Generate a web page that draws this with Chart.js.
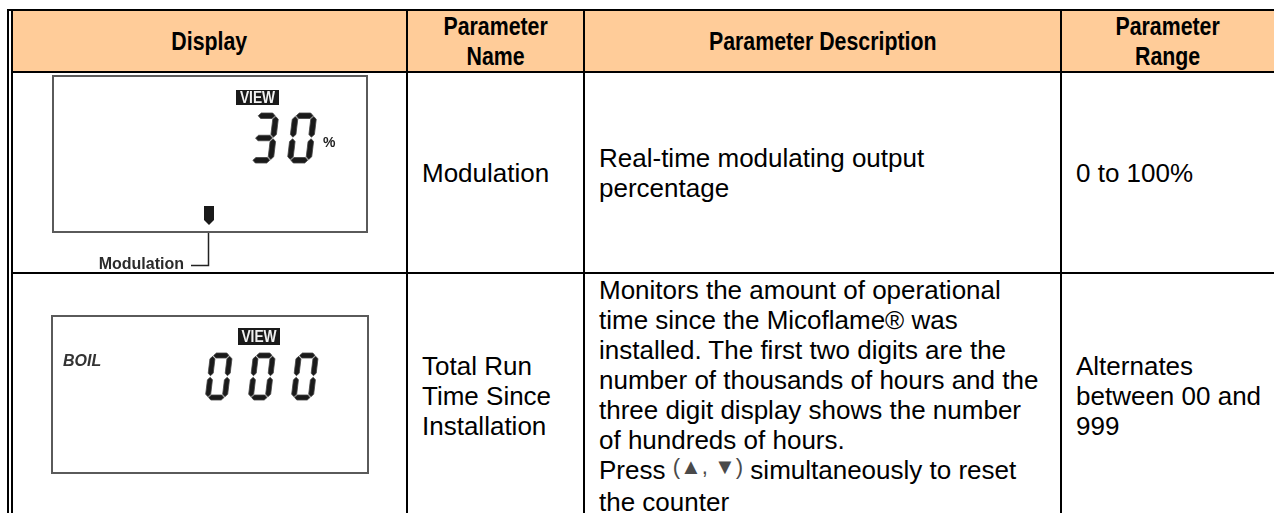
<!DOCTYPE html>
<html>
<head>
<meta charset="utf-8">
<title>Display parameters</title>
<script src="https://cdn.jsdelivr.net/npm/chart.js@4.4.1/dist/chart.umd.min.js"></script>
<style>
    html, body { margin: 0; padding: 0; background: #fff; width: 1274px; height: 513px; overflow: hidden; }
    #sheet { position: absolute; left: 0; top: 0; width: 1274px; height: 513px; }
    .rule { position: absolute; background: #000; }
    .cell {
        position: absolute; box-sizing: border-box; display: flex; align-items: center;
        font-family: "Liberation Sans", Arial, sans-serif; font-size: 26px; line-height: 30px;
        color: #000; padding-left: 14px; white-space: nowrap;
    }
    .cell.head { background: #ffcc99; font-weight: bold; justify-content: center; text-align: center; padding-left: 0; }
    .cell canvas { position: absolute; left: 0; top: 0; }
    .keys { font-size: 22px; color: #4a4a4a; position: relative; top: -5px; }
</style>
</head>
<body>
<div id="sheet"></div>
<script>
// Table content
const headers = [['Display'], ['Parameter', 'Name'], ['Parameter Description'], ['Parameter', 'Range']];
const paramNames = [['Modulation'], ['Total Run', 'Time Since', 'Installation']];
const paramDescriptions = [
    ['Real-time modulating output', 'percentage'],
    ['Monitors the amount of operational', 'time since the Micoflame® was', 'installed. The first two digits are the',
     'number of thousands of hours and the', 'three digit display shows the number', 'of hundreds of hours.',
     'Press (▲, ▼) simultaneously to reset', 'the counter']
];
const paramRanges = [['0 to 100%'], ['Alternates', 'between 00 and', '999']];

// What each LCD in the Display column shows
const lcdDigits = ['30', '000'];
const lcdUnits = ['%', ''];
const lcdModes = ['', 'BOIL'];
const lcdBadges = ['VIEW', 'VIEW'];
const lcdCallouts = ['Modulation', ''];

// Grid layout (pixels): left edge of each column, top edge of each row
const COLS = [13, 408, 585, 1062, 1276];
const ROWS = [11, 73, 274, 520];
const RULE = 2;

// Panel drawing layout, in each display cell's own coordinates
const PANELS = [
    { box: [40, 3, 354, 159], badge: [223, 17, 43, 15],
      digit: { x: 236, y: 40, w: 24, h: 50, pitch: 38, t: 5.5 }, unit: [310, 74],
      callout: { marker: [191, 133, 10, 19], lineX: 195.5, lineY: 192.5, lineEnd: 178, label: [171, 196] } },
    { box: [39, 42, 355, 199], badge: [225, 54, 42, 17],
      digit: { x: 192, y: 79, w: 22, h: 47, pitch: 43, t: 5 }, mode: [50, 92] }
];

const SEGMENTS = { '0': 'abcdef', '1': 'bc', '2': 'abged', '3': 'abgcd', '4': 'fgbc',
                   '5': 'afgcd', '6': 'afgedc', '7': 'abc', '8': 'abcdefg', '9': 'abcdfg' };
const SLANT = 0.12;

function fontAvailable(family) {
    const ctx = document.createElement('canvas').getContext('2d');
    const probe = 'Parameter Description';
    ctx.font = 'bold 40px monospace';
    const base = ctx.measureText(probe).width;
    ctx.font = `bold 40px "${family}", monospace`;
    return ctx.measureText(probe).width !== base;
}

// seven segment digit, box left/top at (bx, by) in pixels
function drawDigit(ctx, ch, bx, by, d) {
    const { w, h, t } = d;
    const g = 0.8, m = h / 2;
    const hSeg = (yc, x0, x1) => [[x0 + g, yc], [x0 + g + t / 2, yc - t / 2], [x1 - g - t / 2, yc - t / 2],
                                  [x1 - g, yc], [x1 - g - t / 2, yc + t / 2], [x0 + g + t / 2, yc + t / 2]];
    const vSeg = (xc, y0, y1) => [[xc, y0 + g], [xc + t / 2, y0 + g + t / 2], [xc + t / 2, y1 - g - t / 2],
                                  [xc, y1 - g], [xc - t / 2, y1 - g - t / 2], [xc - t / 2, y0 + g + t / 2]];
    const segs = {
        a: hSeg(t / 2, t / 2, w - t / 2),
        g: hSeg(m, t / 2, w - t / 2),
        d: hSeg(h - t / 2, t / 2, w - t / 2),
        f: vSeg(t / 2, t / 2, m),
        b: vSeg(w - t / 2, t / 2, m),
        e: vSeg(t / 2, m, h - t / 2),
        c: vSeg(w - t / 2, m, h - t / 2)
    };
    ctx.fillStyle = '#1a1a1a';
    ctx.strokeStyle = '#444';
    ctx.lineWidth = 0.8;
    for (const s of (SEGMENTS[ch] || '')) {
        ctx.beginPath();
        segs[s].forEach(([px, py], k) => {
            const X = bx + px + (h - py) * SLANT, Y = by + py;
            k ? ctx.lineTo(X, Y) : ctx.moveTo(X, Y);
        });
        ctx.closePath();
        ctx.fill();
        ctx.stroke();
    }
}

const lcdPlugin = {
    id: 'lcdPanel',
    afterDraw(chart) {
        const { ctx, scales: { x, y } } = chart;
        const row = chart.options.plugins.lcdPanel.row;
        const P = PANELS[row];
        const X = v => x.getPixelForValue(v), Y = v => y.getPixelForValue(v);
        ctx.save();

        // panel frame
        ctx.strokeStyle = '#5a5a5a';
        ctx.lineWidth = 2;
        ctx.strokeRect(X(P.box[0]), Y(P.box[1]), X(P.box[2]) - X(P.box[0]), Y(P.box[3]) - Y(P.box[1]));

        // VIEW badge
        const [bx, by, bw, bh] = P.badge;
        ctx.fillStyle = '#1a1a1a';
        ctx.fillRect(X(bx), Y(by), bw, bh);
        ctx.save();
        ctx.translate(X(bx + bw / 2), Y(by + bh / 2 + 1));
        ctx.scale(0.86, 1);
        ctx.fillStyle = '#f2f2f2';
        ctx.font = 'bold 16px "Liberation Sans", Arial, sans-serif';
        ctx.textAlign = 'center';
        ctx.textBaseline = 'middle';
        ctx.fillText(lcdBadges[row], 0, 0);
        ctx.restore();

        // readout digits
        const d = P.digit;
        [...lcdDigits[row]].forEach((ch, k) => drawDigit(ctx, ch, X(d.x + k * d.pitch), Y(d.y), d));

        ctx.fillStyle = '#222';
        ctx.textBaseline = 'alphabetic';
        if (lcdUnits[row] && P.unit) {
            ctx.textAlign = 'left';
            ctx.font = 'bold 14px "Liberation Sans", Arial, sans-serif';
            ctx.fillText(lcdUnits[row], X(P.unit[0]), Y(P.unit[1]));
        }
        if (lcdModes[row] && P.mode) {
            ctx.textAlign = 'left';
            ctx.font = 'italic bold 16px "Liberation Sans", Arial, sans-serif';
            ctx.fillStyle = '#333';
            ctx.fillText(lcdModes[row], X(P.mode[0]), Y(P.mode[1]));
        }

        // segment indicator + callout
        if (lcdCallouts[row] && P.callout) {
            const c = P.callout;
            const [mx, my, mw, mh] = c.marker;
            ctx.fillStyle = '#1a1a1a';
            ctx.beginPath();
            ctx.moveTo(X(mx), Y(my));
            ctx.lineTo(X(mx + mw), Y(my));
            ctx.lineTo(X(mx + mw), Y(my + mh - 5));
            ctx.lineTo(X(mx + mw / 2), Y(my + mh));
            ctx.lineTo(X(mx), Y(my + mh - 5));
            ctx.closePath();
            ctx.fill();

            ctx.strokeStyle = '#222';
            ctx.lineWidth = 1.5;
            ctx.beginPath();
            ctx.moveTo(X(c.lineX), Y(P.box[3] + 1));
            ctx.lineTo(X(c.lineX), Y(c.lineY));
            ctx.lineTo(X(c.lineEnd), Y(c.lineY));
            ctx.stroke();

            ctx.fillStyle = '#2b2b2b';
            ctx.textAlign = 'right';
            ctx.font = 'bold 16px "Liberation Sans", Arial, sans-serif';
            ctx.fillText(lcdCallouts[row], X(c.label[0]), Y(c.label[1]));
        }
        ctx.restore();
    }
};

function makePanelChart(canvas, row) {
    return new Chart(canvas, {
        type: 'scatter',
        data: { datasets: [{ data: [] }] },
        options: {
            responsive: false,
            animation: false,
            devicePixelRatio: 1,
            layout: { padding: 0 },
            scales: {
                x: { type: 'linear', min: 0, max: canvas.width, display: false },
                y: { type: 'linear', min: 0, max: canvas.height, reverse: true, display: false }
            },
            plugins: { legend: { display: false }, tooltip: { enabled: false }, lcdPanel: { row } }
        },
        plugins: [lcdPlugin]
    });
}

function addRule(sheet, left, top, width, height) {
    const el = document.createElement('div');
    el.className = 'rule';
    Object.assign(el.style, { left: left + 'px', top: top + 'px', width: width + 'px', height: height + 'px' });
    sheet.appendChild(el);
}

function addCell(sheet, col, row, cls) {
    const el = document.createElement('div');
    el.className = 'cell' + (cls ? ' ' + cls : '');
    Object.assign(el.style, {
        left: COLS[col] + 'px', top: ROWS[row] + 'px',
        width: (COLS[col + 1] - RULE - COLS[col]) + 'px', height: (ROWS[row + 1] - RULE - ROWS[row]) + 'px'
    });
    sheet.appendChild(el);
    return el;
}

function setLines(el, lines) {
    const box = document.createElement('div');
    box.innerHTML = lines.map(s => s.replace(/\(([▲▼, ]+)\)/, '<span class="keys">($1)</span>')).join('<br>');
    el.appendChild(box);
}

document.addEventListener('DOMContentLoaded', function() {
    const sheet = document.getElementById('sheet');
    const narrow = fontAvailable('Liberation Sans Narrow');

    // header row
    headers.forEach((lines, c) => {
        const cell = addCell(sheet, c, 0, 'head');
        setLines(cell, lines);
        if (narrow) cell.style.fontFamily = '"Liberation Sans Narrow", "Arial Narrow", sans-serif';
        else cell.firstChild.style.transform = 'scaleX(0.82)';
    });

    // body rows
    paramNames.forEach((name, r) => {
        const disp = addCell(sheet, 0, r + 1);
        disp.style.paddingLeft = '0';
        const canvas = document.createElement('canvas');
        canvas.width = COLS[1] - RULE - COLS[0];
        canvas.height = ROWS[r + 2] - RULE - ROWS[r + 1];
        disp.appendChild(canvas);
        makePanelChart(canvas, r);

        setLines(addCell(sheet, 1, r + 1), name);
        setLines(addCell(sheet, 2, r + 1), paramDescriptions[r]);
        setLines(addCell(sheet, 3, r + 1), paramRanges[r]);
    });

    // grid rules
    addRule(sheet, 7, 9, 1274 - 7, RULE);           // top edge
    addRule(sheet, 7, 9, RULE, 513 - 9);            // outer double line
    addRule(sheet, 11, 11, RULE, 513 - 11);
    COLS.slice(1, 4).forEach(cx => addRule(sheet, cx - RULE, 11, RULE, 513 - 11));
    ROWS.slice(1, 3).forEach(ry => addRule(sheet, 13, ry - RULE, 1274 - 13, RULE));
});
</script>
</body>
</html>
